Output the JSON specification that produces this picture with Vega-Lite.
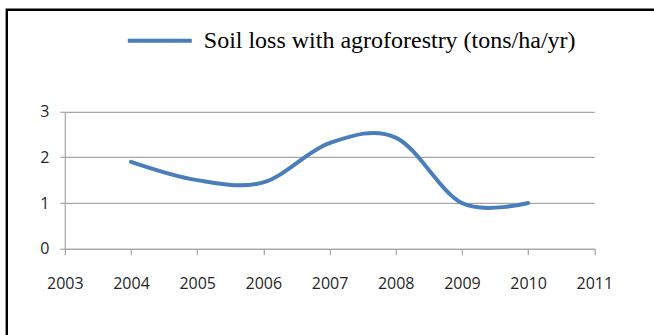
{
  "$schema": "https://vega.github.io/schema/vega-lite/v6.json",
  "autosize": {"type": "pad"},
  "padding": {"left": 4.8, "top": 6.8, "right": 0, "bottom": 0},
  "background": "#ffffff",
  "config": {
    "view": {"stroke": "#000000", "strokeWidth": 2.4, "strokeDash": [648, 975]},
    "concat": {"spacing": 0},
    "axis": {
      "labelFont": "Open Sans",
      "labelFontSize": 16,
      "labelColor": "#262626",
      "domainColor": "#a6a6a6",
      "tickColor": "#a6a6a6",
      "gridColor": "#a6a6a6",
      "domainWidth": 1.2,
      "tickWidth": 1.2,
      "gridWidth": 1.2,
      "title": null
    }
  },
  "data": {
    "values": [
      {"year": 2004, "loss": 1.9, "series": "Soil loss with agroforestry (tons/ha/yr)"},
      {"year": 2005, "loss": 1.5, "series": "Soil loss with agroforestry (tons/ha/yr)"},
      {"year": 2006, "loss": 1.45, "series": "Soil loss with agroforestry (tons/ha/yr)"},
      {"year": 2007, "loss": 2.31, "series": "Soil loss with agroforestry (tons/ha/yr)"},
      {"year": 2008, "loss": 2.43, "series": "Soil loss with agroforestry (tons/ha/yr)"},
      {"year": 2009, "loss": 1.0, "series": "Soil loss with agroforestry (tons/ha/yr)"},
      {"year": 2010, "loss": 1.0, "series": "Soil loss with agroforestry (tons/ha/yr)"}
    ]
  },
  "vconcat": [
    {
      "width": 648,
      "height": 327,
      "mark": {"type": "line", "interpolate": "cardinal", "tension": 0, "strokeWidth": 4, "strokeCap": "round"},
      "encoding": {
        "x": {
          "field": "year",
          "type": "quantitative",
          "scale": {"domain": [2003, 2011], "range": [58, 587.5], "nice": false, "zero": false},
          "axis": {
            "values": [2003, 2004, 2005, 2006, 2007, 2008, 2009, 2010, 2011],
            "format": "d",
            "grid": false,
            "offset": -88,
            "tickSize": 6,
            "labelPadding": 21,
            "labelFlush": false
          }
        },
        "y": {
          "field": "loss",
          "type": "quantitative",
          "scale": {"domain": [0, 3], "range": [239, 101.7], "nice": false},
          "axis": {
            "values": [0, 1, 2, 3],
            "grid": true,
            "offset": -58,
            "tickSize": 5,
            "labelPadding": 11,
            "labelFlush": false
          }
        },
        "color": {
          "field": "series",
          "type": "nominal",
          "scale": {"range": ["#4a7ebb"]},
          "legend": {
            "orient": "none",
            "legendX": 119,
            "legendY": -3,
            "title": null,
            "padding": 0,
            "symbolType": "stroke",
            "symbolSize": 4096,
            "symbolStrokeWidth": 4,
            "labelFont": "Liberation Serif",
            "labelFontSize": 24,
            "labelColor": "#000000",
            "labelOffset": 10,
            "labelLimit": 0
          }
        }
      }
    }
  ]
}
